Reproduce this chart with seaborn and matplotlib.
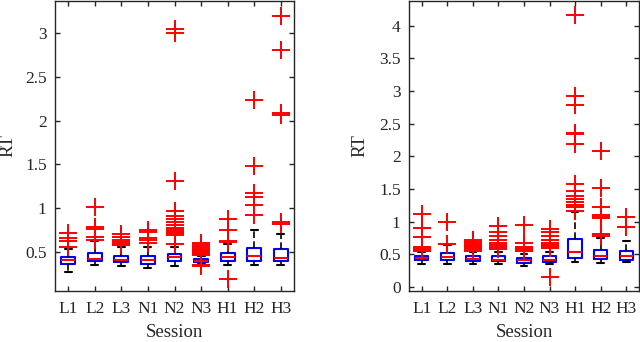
import pandas as pd
import seaborn as sns
import matplotlib
matplotlib.use("Agg")
import matplotlib.pyplot as plt
from matplotlib.ticker import FuncFormatter

sessions = ["L1", "L2", "L3", "N1", "N2", "N3", "H1", "H2", "H3"]

# left panel: whisker ends, quartiles, medians
left_lo = [0.28, 0.355, 0.34, 0.325, 0.345, 0.365, 0.355, 0.355, 0.36]
left_q1 = [0.37, 0.405, 0.39, 0.372, 0.40, 0.385, 0.405, 0.40, 0.40]
left_med = [0.408, 0.427, 0.413, 0.414, 0.444, 0.405, 0.444, 0.455, 0.432]
left_q3 = [0.446, 0.498, 0.459, 0.459, 0.481, 0.422, 0.49, 0.548, 0.538]
left_hi = [0.54, 0.625, 0.56, 0.556, 0.565, 0.46, 0.594, 0.756, 0.714]
left_out = [
    [0.72, 0.66, 0.63, 0.56],
    [1.02, 0.79, 0.77, 0.67, 0.64],
    [0.71, 0.67, 0.64, 0.62, 0.60, 0.58],
    [0.75, 0.73, 0.66, 0.64, 0.61],
    [3.04, 3.00, 1.31, 0.97, 0.91, 0.88, 0.84, 0.81, 0.78, 0.76, 0.74,
     0.73, 0.72, 0.71, 0.70, 0.59],
    [0.61, 0.58, 0.56, 0.54, 0.53, 0.52, 0.51, 0.50, 0.49, 0.48, 0.47,
     0.36, 0.34],
    [0.88, 0.75, 0.63, 0.62, 0.20],
    [2.23, 1.485, 1.17, 1.13, 1.04, 0.93],
    [3.19, 2.80, 2.08, 2.06, 0.85, 0.82],
]

# right panel
right_lo = [0.356, 0.356, 0.346, 0.346, 0.33, 0.356, 0.381, 0.366, 0.381]
right_q1 = [0.407, 0.407, 0.396, 0.396, 0.371, 0.381, 0.442, 0.432, 0.422]
right_med = [0.442, 0.468, 0.432, 0.422, 0.407, 0.422, 0.534, 0.483, 0.473]
right_q3 = [0.473, 0.518, 0.473, 0.473, 0.447, 0.473, 0.74, 0.569, 0.549]
right_hi = [0.534, 0.645, 0.544, 0.534, 0.508, 0.534, 1.144, 0.747, 0.712]
right_out = [
    [1.12, 0.91, 0.90, 0.77, 0.62, 0.60, 0.59, 0.58, 0.57, 0.56, 0.55],
    [1.00, 0.66],
    [0.72, 0.69, 0.67, 0.65, 0.64, 0.63, 0.62, 0.61, 0.60, 0.59, 0.58,
     0.57, 0.56],
    [0.93, 0.85, 0.78, 0.72, 0.67, 0.65, 0.63, 0.61, 0.60, 0.59],
    [0.95, 0.68, 0.62, 0.60, 0.59, 0.58, 0.57, 0.56, 0.55],
    [0.89, 0.84, 0.78, 0.72, 0.68, 0.66, 0.65, 0.64, 0.63, 0.62, 0.61,
     0.60, 0.15],
    [4.17, 2.92, 2.79, 2.36, 2.35, 2.19, 1.58, 1.47, 1.40, 1.35, 1.30,
     1.26, 1.22, 1.17],
    [2.09, 1.51, 1.22, 1.10, 1.08, 1.06, 0.81, 0.78],
    [1.08, 0.92],
]

AX_COLOR = "#262626"


def draw_panel(ax, lo, q1, med, q3, hi, out, ylim, yticks, label_x):
    core = pd.DataFrame(
        [(s, v) for i, s in enumerate(sessions)
         for v in (lo[i], q1[i], med[i], q3[i], hi[i])],
        columns=["Session", "RT"])
    fliers = pd.DataFrame(
        [(s, v) for i, s in enumerate(sessions) for v in out[i]],
        columns=["Session", "RT"])

    sns.boxplot(data=core, x="Session", y="RT", order=sessions, ax=ax,
                whis=(0, 100), showfliers=False, fill=False, color="blue",
                saturation=1, width=0.52, linewidth=1.5,
                medianprops={"color": "red", "linewidth": 1.5},
                whiskerprops={"color": "black", "linestyle": (0, (4, 2)),
                              "linewidth": 1.2},
                capprops={"color": "black", "linewidth": 1.5})
    sns.stripplot(data=fliers, x="Session", y="RT", order=sessions, ax=ax,
                  jitter=False, marker="+", size=13, linewidth=1.4,
                  color="red", edgecolor="red", zorder=5)

    ax.set_xlim(-0.5, 8.5)
    ax.set_ylim(*ylim)
    ax.set_yticks(yticks)
    ax.yaxis.set_major_formatter(FuncFormatter(lambda v, p: "%g" % v))
    ax.tick_params(direction="in", top=True, right=True, length=3.5,
                   width=1, colors=AX_COLOR, labelsize=12.5,
                   labelcolor=AX_COLOR)
    ax.tick_params(axis="x", pad=7.5)
    ax.tick_params(axis="y", pad=6)
    for sp in ax.spines.values():
        sp.set_color(AX_COLOR)
        sp.set_linewidth(1.0)
    ax.set_xlabel("Session", fontsize=13.5, color=AX_COLOR)
    ax.set_ylabel("RT", fontsize=13.5, color=AX_COLOR)
    ax.xaxis.set_label_coords(0.5, -0.115)
    ax.yaxis.set_label_coords(label_x, 0.5)


sns.set_style("ticks")
plt.rcParams["font.family"] = ["Liberation Serif", "DejaVu Serif"]

fig = plt.figure(figsize=(6.4, 3.42), dpi=100)
ax1 = fig.add_axes([55 / 640, 51 / 342, 239 / 640, 290 / 342])
ax2 = fig.add_axes([409 / 640, 51 / 342, 230 / 640, 290 / 342])

draw_panel(ax1, left_lo, left_q1, left_med, left_q3, left_hi, left_out,
           (0.06, 3.36), [0.5, 1, 1.5, 2, 2.5, 3], -0.163)
draw_panel(ax2, right_lo, right_q1, right_med, right_q3, right_hi, right_out,
           (-0.06, 4.38), [0, 0.5, 1, 1.5, 2, 2.5, 3, 3.5, 4], -0.178)

fig.savefig("out.png", dpi=100)
